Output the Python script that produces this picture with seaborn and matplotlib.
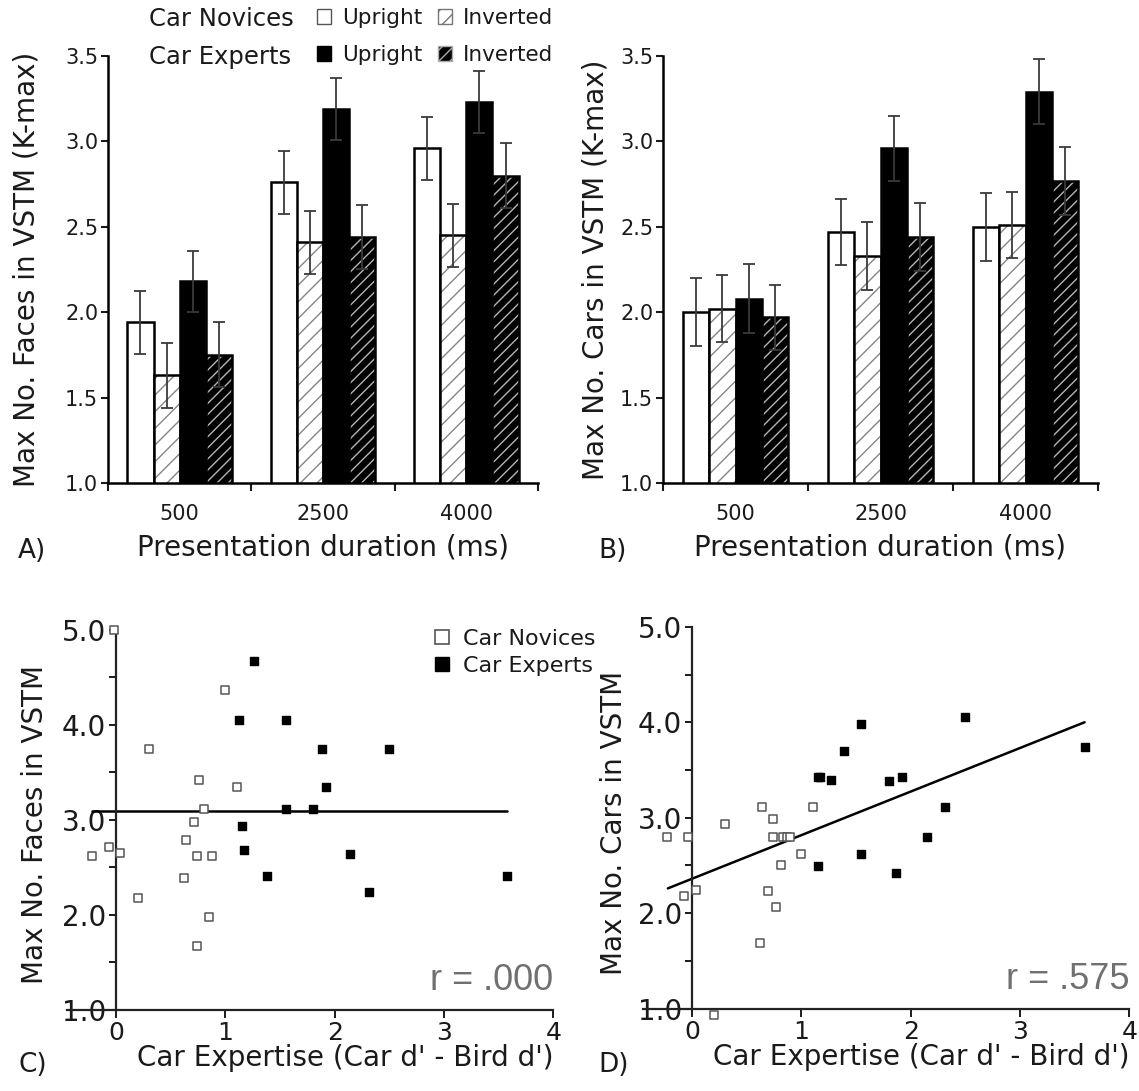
import matplotlib
matplotlib.use('Agg')
import matplotlib.pyplot as plt
import seaborn as sns
import numpy as np
import pandas as pd
from matplotlib.patches import Patch, Rectangle
from matplotlib.lines import Line2D
from matplotlib.ticker import FormatStrFormatter

# ---------------- data ----------------
durations = ['500', '2500', '4000']
conditions = ['Novice Upright', 'Novice Inverted', 'Expert Upright', 'Expert Inverted']

# Panel A: faces
faces_nov_up = [1.94, 2.76, 2.96]
faces_nov_inv = [1.63, 2.41, 2.45]
faces_exp_up = [2.18, 3.19, 3.23]
faces_exp_inv = [1.75, 2.44, 2.80]
faces_nov_up_se = [0.185, 0.185, 0.185]
faces_nov_inv_se = [0.19, 0.185, 0.185]
faces_exp_up_se = [0.18, 0.18, 0.18]
faces_exp_inv_se = [0.19, 0.19, 0.19]

# Panel B: cars
cars_nov_up = [2.00, 2.47, 2.50]
cars_nov_inv = [2.02, 2.33, 2.51]
cars_exp_up = [2.08, 2.96, 3.29]
cars_exp_inv = [1.97, 2.44, 2.77]
cars_nov_up_se = [0.20, 0.195, 0.20]
cars_nov_inv_se = [0.195, 0.20, 0.195]
cars_exp_up_se = [0.20, 0.19, 0.19]
cars_exp_inv_se = [0.19, 0.20, 0.20]

# Panel C: faces vs expertise
c_nov_x = [-0.02, 0.30, 1.00, 0.76, 1.11, 0.81, 0.71, 0.64, -0.06, -0.22, 0.04, 0.74, 0.88, 0.62, 0.20, 0.85, 0.74]
c_nov_y = [5.00, 3.74, 4.37, 3.42, 3.35, 3.11, 2.98, 2.79, 2.71, 2.62, 2.65, 2.62, 2.62, 2.39, 2.18, 1.98, 1.67]
c_exp_x = [1.26, 1.13, 1.56, 1.88, 2.50, 1.92, 1.56, 1.80, 1.15, 1.17, 2.14, 1.38, 2.31, 3.58]
c_exp_y = [4.67, 4.05, 4.05, 3.74, 3.74, 3.34, 3.11, 3.11, 2.93, 2.68, 2.64, 2.41, 2.24, 2.41]
c_fit_x = [-0.22, 3.58]
c_fit_y = [3.09, 3.09]

# Panel D: cars vs expertise
d_nov_x = [-0.23, -0.04, 0.30, 0.64, 0.74, 0.74, 0.83, 0.87, 0.90, 1.11, 1.00, 0.81, -0.07, 0.04, 0.70, 0.77, 0.62, 0.20]
d_nov_y = [2.80, 2.80, 2.93, 3.11, 2.99, 2.80, 2.80, 2.80, 2.80, 3.11, 2.62, 2.50, 2.18, 2.24, 2.23, 2.07, 1.69, 0.93]
d_exp_x = [1.55, 2.50, 1.39, 1.15, 1.17, 1.27, 1.80, 1.92, 3.59, 2.31, 2.15, 1.55, 1.15, 1.87]
d_exp_y = [3.98, 4.05, 3.70, 3.43, 3.43, 3.40, 3.38, 3.43, 3.74, 3.11, 2.80, 2.62, 2.49, 2.42]
d_fit_x = [-0.22, 3.59]
d_fit_y = [2.26, 4.00]

# ---------------- style ----------------
sns.set_style('ticks')
plt.rcParams['font.family'] = ['DejaVu Sans']
plt.rcParams['hatch.linewidth'] = 1.0
TXT = '#1a1a1a'
plt.rcParams['text.color'] = TXT
plt.rcParams['axes.labelcolor'] = TXT
plt.rcParams['xtick.color'] = TXT
plt.rcParams['ytick.color'] = TXT

W, H = 1139, 1091
fig = plt.figure(figsize=(W / 100, H / 100), dpi=100)


def px_axes(left, right, top, bottom):
    return fig.add_axes([left / W, 1 - bottom / H, (right - left) / W, (bottom - top) / H])


styles = [
    dict(face='white', hatch=None, hc=None),
    dict(face='white', hatch='//', hc='#858585'),
    dict(face='black', hatch=None, hc=None),
    dict(face='black', hatch='///', hc='#b5b5b5'),
]


def bar_panel(ax, means, ses, ylabel):
    rows = []
    for cond, vals in zip(conditions, means):
        for d, v in zip(durations, vals):
            rows.append(dict(duration=d, condition=cond, value=v))
    df = pd.DataFrame(rows)
    sns.barplot(data=df, x='duration', y='value', hue='condition', order=durations,
                hue_order=conditions, errorbar=None, width=0.73, legend=False,
                palette=['white', 'white', 'black', 'black'], ax=ax)
    for cont, st, se in zip(ax.containers, styles, ses):
        cx, cy = [], []
        for bar in cont:
            bar.set_facecolor(st['face'])
            if st['hatch']:
                bar.set_hatch(st['hatch'])
                bar.set_edgecolor(st['hc'])
                bar.set_linewidth(0)
                ax.add_patch(Rectangle(bar.get_xy(), bar.get_width(), bar.get_height(),
                                       fill=False, edgecolor='black', lw=1.8,
                                       zorder=bar.get_zorder() + 0.1))
            else:
                bar.set_edgecolor('black')
                bar.set_linewidth(1.8)
            cx.append(bar.get_x() + bar.get_width() / 2)
            cy.append(bar.get_height())
        ax.errorbar(cx, cy, yerr=se, fmt='none', ecolor='#3a3a3a', elinewidth=1.3,
                    capsize=4, capthick=1.3, zorder=6)
    ax.set_xlim(-0.5, 2.5)
    ax.set_ylim(1.0, 3.5)
    ax.set_xticks([0, 1, 2])
    ax.set_xticklabels(durations)
    ax.set_xticks([-0.5, 0.5, 1.5, 2.5], minor=True)
    ax.tick_params(axis='x', which='major', length=0, pad=15, labelsize=15)
    ax.tick_params(axis='x', which='minor', length=6, width=1.5, direction='out')
    ax.set_yticks(np.arange(1.0, 3.51, 0.5))
    ax.yaxis.set_major_formatter(FormatStrFormatter('%.1f'))
    ax.tick_params(axis='y', length=5, width=1.5, direction='out', labelsize=15, pad=2)
    for s in ['top', 'right']:
        ax.spines[s].set_visible(False)
    for s in ['left', 'bottom']:
        ax.spines[s].set_linewidth(1.8)
        ax.spines[s].set_color('black')
    ax.set_xlabel('Presentation duration (ms)', fontsize=20)
    ax.xaxis.set_label_coords(0.5, -0.118)
    ax.set_ylabel(ylabel, fontsize=20)


axA = px_axes(108, 538, 56, 483)
bar_panel(axA, [faces_nov_up, faces_nov_inv, faces_exp_up, faces_exp_inv],
          [faces_nov_up_se, faces_nov_inv_se, faces_exp_up_se, faces_exp_inv_se],
          'Max No. Faces in VSTM (K-max)')
axA.yaxis.set_label_coords(-0.158, 0.5)

axB = px_axes(663, 1098, 56, 483)
bar_panel(axB, [cars_nov_up, cars_nov_inv, cars_exp_up, cars_exp_inv],
          [cars_nov_up_se, cars_nov_inv_se, cars_exp_up_se, cars_exp_inv_se],
          'Max No. Cars in VSTM (K-max)')
axB.yaxis.set_label_coords(-0.122, 0.5)

# Legend for bar panels
leg_handles = [
    Patch(facecolor='white', edgecolor='#555555', lw=1.0),
    Patch(facecolor='black', edgecolor='black', lw=1.0),
    Patch(facecolor='white', edgecolor='#777777', hatch='//', lw=1.0),
    Patch(facecolor='black', edgecolor='#aaaaaa', hatch='///', lw=1.0),
]
fig.legend(handles=leg_handles, labels=['Upright', 'Upright', 'Inverted', 'Inverted'],
           ncol=2, loc='upper left', bbox_to_anchor=(317 / W, 1 - 8 / H),
           frameon=False, fontsize=15.5, handlelength=0.65, handleheight=0.65,
           handletextpad=0.5, columnspacing=0.75, labelspacing=0.8, borderpad=0,
           borderaxespad=0)
fig.text(149 / W, 1 - 19 / H, 'Car Novices', fontsize=17.5, va='center', ha='left')
fig.text(149 / W, 1 - 57 / H, 'Car Experts', fontsize=17.5, va='center', ha='left')


def scatter_panel(ax, nx, ny, ex, ey, fx, fy, ylabel, rtext):
    sns.scatterplot(x=nx, y=ny, marker='s', s=34, color='white', edgecolor='#555555',
                    linewidth=1.1, ax=ax, zorder=3, clip_on=False)
    sns.scatterplot(x=ex, y=ey, marker='s', s=38, color='black', edgecolor='black',
                    linewidth=1.0, ax=ax, zorder=3, clip_on=False)
    sns.lineplot(x=fx, y=fy, color='black', lw=1.8, ax=ax, zorder=2)
    ax.set_xlim(-0.45, 4.06)
    ax.set_ylim(0.85, 5.05)
    ax.spines['left'].set_position(('data', 0))
    ax.spines['bottom'].set_position(('data', 1.0))
    ax.spines['left'].set_bounds(1.0, 5.0)
    ax.spines['bottom'].set_bounds(-0.45, 4.0)
    for s in ['top', 'right']:
        ax.spines[s].set_visible(False)
    for s in ['left', 'bottom']:
        ax.spines[s].set_linewidth(1.6)
        ax.spines[s].set_color('#222222')
    ax.set_xticks([0, 1, 2, 3, 4])
    ax.set_yticks([1, 2, 3, 4, 5])
    ax.set_yticks([1.5, 2.5, 3.5, 4.5], minor=True)
    ax.yaxis.set_major_formatter(FormatStrFormatter('%.1f'))
    ax.tick_params(axis='x', length=6, width=1.4, labelsize=18, pad=2)
    ax.tick_params(axis='y', which='major', length=5, width=1.4, labelsize=20, pad=2)
    ax.tick_params(axis='y', which='minor', length=5, width=1.4)
    ax.set_xlabel("Car Expertise (Car d' - Bird d')", fontsize=20)
    ax.set_ylabel(ylabel, fontsize=20)
    ax.text(4.0, 1.21, rtext, ha='right', va='baseline', fontsize=26, color='#707070',
            family=['Liberation Sans', 'DejaVu Sans'])


axC = px_axes(66.6, 560, 625, 1024)
scatter_panel(axC, c_nov_x, c_nov_y, c_exp_x, c_exp_y, c_fit_x, c_fit_y,
              'Max No. Faces in VSTM', 'r = .000')
axC.yaxis.set_label_coords(-0.036, 0.5)
axC.xaxis.set_label_coords(0.564, -0.05)
scat_handles = [
    Line2D([], [], marker='s', ls='none', mfc='white', mec='#555555', ms=10.5, mew=1.2),
    Line2D([], [], marker='s', ls='none', mfc='black', mec='black', ms=10.5),
]
axC.legend(handles=scat_handles, labels=['Car Novices', 'Car Experts'], loc='upper left',
           bbox_to_anchor=(0.738, 0.99), frameon=False, fontsize=16, handlelength=1.0,
           handletextpad=0.45, labelspacing=0.3, borderpad=0, borderaxespad=0)

axD = px_axes(642.7, 1136, 622, 1023)
scatter_panel(axD, d_nov_x, d_nov_y, d_exp_x, d_exp_y, d_fit_x, d_fit_y,
              'Max No. Cars in VSTM', 'r = .575')
axD.yaxis.set_label_coords(-0.03, 0.5)
axD.xaxis.set_label_coords(0.564, -0.05)

# panel letters
fig.text(18 / W, 1 - 551 / H, 'A)', fontsize=19, va='center')
fig.text(598 / W, 1 - 551 / H, 'B)', fontsize=19, va='center')
fig.text(18 / W, 1 - 1065 / H, 'C)', fontsize=19, va='center')
fig.text(598 / W, 1 - 1065 / H, 'D)', fontsize=19, va='center')

fig.savefig('out.png', dpi=100, facecolor='white')
